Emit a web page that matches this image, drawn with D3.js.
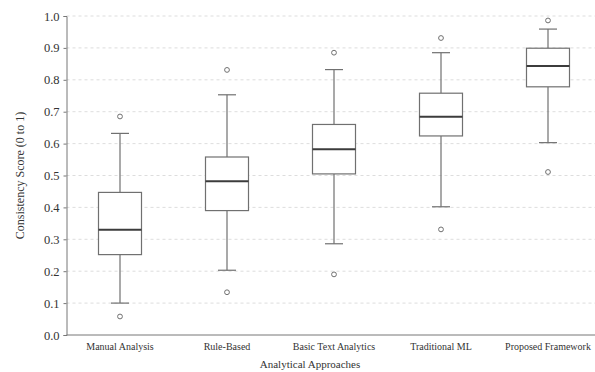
<!DOCTYPE html>
<html>
<head>
<meta charset="utf-8">
<script src="https://cdn.jsdelivr.net/npm/d3@7"></script>
<style>
  html, body { margin: 0; padding: 0; background: #fff; }
  svg { display: block; font-family: "Liberation Serif", "DejaVu Serif", serif; }
</style>
</head>
<body>
<svg id="chart" width="595" height="372"></svg>
<script>
const categories = ['Manual Analysis', 'Rule-Based', 'Basic Text Analytics', 'Traditional ML', 'Proposed Framework'];
const whiskerLow = [0.100, 0.203, 0.286, 0.402, 0.603];
const q1 = [0.252, 0.390, 0.505, 0.624, 0.778];
const median = [0.330, 0.482, 0.582, 0.684, 0.843];
const q3 = [0.447, 0.558, 0.660, 0.758, 0.899];
const whiskerHigh = [0.632, 0.753, 0.832, 0.885, 0.959];
const outliers = [[0.685, 0.058], [0.831, 0.134], [0.885, 0.190], [0.931, 0.331], [0.986, 0.511]];
const yTicks = [0, 0.1, 0.2, 0.3, 0.4, 0.5, 0.6, 0.7, 0.8, 0.9, 1.0];

const svg = d3.select('#chart');
const m = { left: 66.5, top: 16, bottom: 335, right: 595 };

const x = d3.scaleBand().domain(categories).range([m.left, m.left + 535]).padding(0);
const y = d3.scaleLinear().domain([0, 1]).range([m.bottom, m.top]);

// grid
svg.append('g').selectAll('line')
  .data(yTicks.slice(1))
  .join('line')
  .attr('x1', m.left).attr('x2', m.right)
  .attr('y1', d => y(d)).attr('y2', d => y(d))
  .attr('stroke', '#d4d4d4')
  .attr('stroke-width', 0.8)
  .attr('stroke-dasharray', '3,3');

// y axis
const yAxis = svg.append('g')
  .attr('transform', `translate(${m.left},0)`)
  .call(d3.axisLeft(y).tickValues(yTicks).tickFormat(d3.format('.1f')).tickSize(3).tickPadding(4));
yAxis.select('.domain').attr('stroke', '#777').attr('stroke-width', 1);
yAxis.selectAll('.tick line').attr('stroke', '#777');
yAxis.selectAll('.tick text').attr('font-size', 12.5).attr('fill', '#333')
  .attr('font-family', '"Liberation Serif", serif');

// x axis line
svg.append('line')
  .attr('x1', m.left).attr('x2', m.right)
  .attr('y1', m.bottom).attr('y2', m.bottom)
  .attr('stroke', '#777').attr('stroke-width', 1);

// category labels
svg.append('g').selectAll('text')
  .data(categories)
  .join('text')
  .attr('x', d => x(d) + x.bandwidth() / 2)
  .attr('y', 350)
  .attr('text-anchor', 'middle')
  .attr('font-size', 10)
  .attr('fill', '#333')
  .text(d => d);

// boxes
const boxW = 43, capW = 18;
const g = svg.append('g').selectAll('g')
  .data(categories.map((c, i) => ({ c, i })))
  .join('g')
  .attr('transform', d => `translate(${x(d.c) + x.bandwidth() / 2},0)`);

const stroke = '#707070';
g.append('line')
  .attr('x1', 0).attr('x2', 0)
  .attr('y1', d => y(whiskerHigh[d.i])).attr('y2', d => y(q3[d.i]))
  .attr('stroke', stroke).attr('stroke-width', 1.2);
g.append('line')
  .attr('x1', 0).attr('x2', 0)
  .attr('y1', d => y(q1[d.i])).attr('y2', d => y(whiskerLow[d.i]))
  .attr('stroke', stroke).attr('stroke-width', 1.2);
g.append('line')
  .attr('x1', -capW / 2).attr('x2', capW / 2)
  .attr('y1', d => y(whiskerHigh[d.i])).attr('y2', d => y(whiskerHigh[d.i]))
  .attr('stroke', stroke).attr('stroke-width', 1.2);
g.append('line')
  .attr('x1', -capW / 2).attr('x2', capW / 2)
  .attr('y1', d => y(whiskerLow[d.i])).attr('y2', d => y(whiskerLow[d.i]))
  .attr('stroke', stroke).attr('stroke-width', 1.2);
g.append('rect')
  .attr('x', -boxW / 2).attr('width', boxW)
  .attr('y', d => y(q3[d.i]))
  .attr('height', d => y(q1[d.i]) - y(q3[d.i]))
  .attr('fill', '#fff')
  .attr('stroke', stroke).attr('stroke-width', 1.2);
g.append('line')
  .attr('x1', -boxW / 2).attr('x2', boxW / 2)
  .attr('y1', d => y(median[d.i])).attr('y2', d => y(median[d.i]))
  .attr('stroke', '#3c3c3c').attr('stroke-width', 2);
g.selectAll('circle')
  .data(d => outliers[d.i])
  .join('circle')
  .attr('cx', 0).attr('cy', v => y(v))
  .attr('r', 2.4)
  .attr('fill', 'none')
  .attr('stroke', stroke).attr('stroke-width', 1);

// axis titles
svg.append('text')
  .attr('transform', `translate(24,${(m.top + m.bottom) / 2}) rotate(-90)`)
  .attr('text-anchor', 'middle')
  .attr('font-size', 12)
  .attr('fill', '#333')
  .text('Consistency Score (0 to 1)');
svg.append('text')
  .attr('x', 310).attr('y', 368)
  .attr('text-anchor', 'middle')
  .attr('font-size', 11)
  .attr('fill', '#333')
  .text('Analytical Approaches');
</script>
</body>
</html>
